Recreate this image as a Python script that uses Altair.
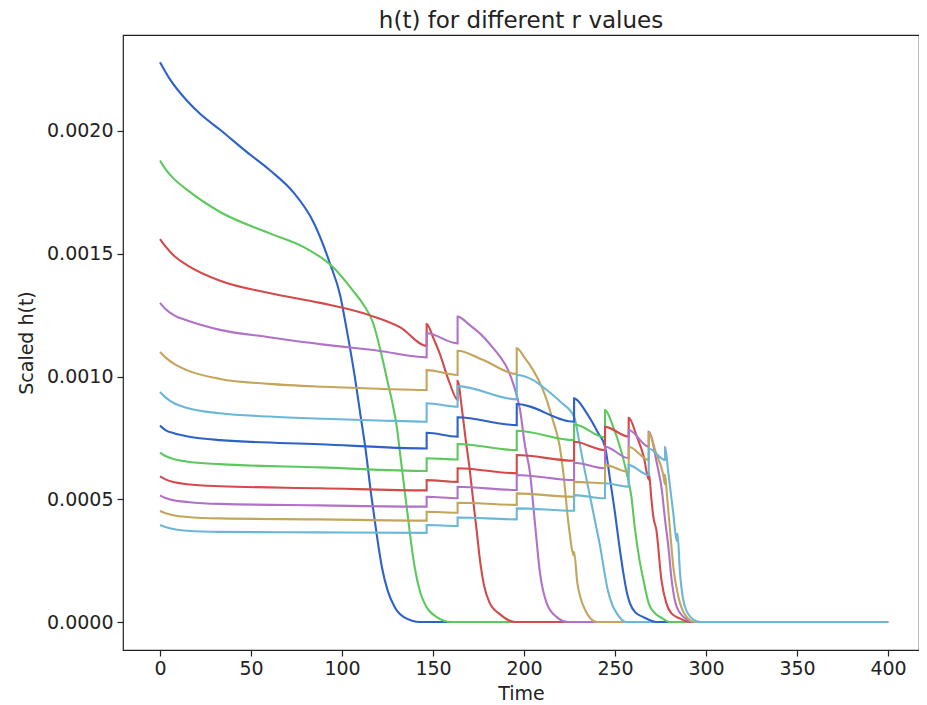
import altair as alt
import pandas as pd

SERIES = ["s01", "s02", "s03", "s04", "s05", "s06", "s07", "s08", "s09", "s10", "s11", "s12"]
COLORS = ["#2d62c8", "#5cc95c", "#d44a4a", "#b072c8", "#c4a55c", "#6cb6d8",
          "#2d62c8", "#5cc95c", "#d44a4a", "#b072c8", "#c4a55c", "#6cb6d8"]

X_TICKS = [0, 50, 100, 150, 200, 250, 300, 350, 400]
Y_TICKS = [0.0, 0.0005, 0.0010, 0.0015, 0.0020]

# values; h values are in units of 1e-3
T1 = [0, 5.5, 14.6, 22, 33, 47.6, 60.4, 73.3, 84.2, 93.4, 99, 102.6, 107, 110, 113, 116, 119, 122, 125, 129, 134, 143, 400]
V1 = [2.28, 2.21, 2.125, 2.07, 2.005, 1.915, 1.84, 1.75, 1.63, 1.46, 1.33, 1.19, 1.00, 0.85, 0.70, 0.52, 0.36, 0.22, 0.13, 0.06, 0.02, 0.0, 0.0]

T2 = [0, 3, 7, 14.6, 33, 60, 79, 95, 106, 112, 117, 121, 125, 128, 130, 132, 134, 136, 138, 140, 143, 146.5, 152, 160, 400]
V2 = [1.88, 1.845, 1.81, 1.762, 1.67, 1.584, 1.527, 1.446, 1.35, 1.29, 1.22, 1.11, 0.98, 0.88, 0.80, 0.68, 0.56, 0.44, 0.32, 0.22, 0.12, 0.06, 0.02, 0.0, 0.0]

T3 = [0, 3, 8, 14.6, 33, 60, 88, 115, 132, 146.5, 146.5, 150, 153.5, 159, 163.5, 163.5, 166, 168, 170, 172, 174, 176, 178, 181, 187, 195, 400]
V3 = [1.56, 1.53, 1.49, 1.455, 1.39, 1.34, 1.30, 1.25, 1.20, 1.125, 1.214, 1.16, 1.097, 0.976, 0.905, 0.982, 0.86, 0.74, 0.63, 0.50, 0.37, 0.24, 0.15, 0.08, 0.03, 0.0, 0.0]

T4 = [0, 3, 8, 15, 33, 60, 90, 120, 146.5, 146.5, 163.5, 163.5, 170, 177.6, 182, 186.8, 191, 194, 197.8, 200.5, 203.3, 206, 208.8, 212.5, 218, 224, 400]
V4 = [1.30, 1.275, 1.248, 1.228, 1.19, 1.16, 1.13, 1.105, 1.078, 1.176, 1.135, 1.244, 1.21, 1.162, 1.125, 1.081, 1.03, 0.972, 0.864, 0.72, 0.606, 0.402, 0.198, 0.076, 0.02, 0.0, 0.0]

T5 = [0, 3, 8, 15, 33, 60, 90, 120, 146.5, 146.5, 163.5, 163.5, 177.6, 196, 196, 200, 205, 209, 212.5, 215.5, 218, 219.5, 221.6, 224.4, 227.5, 227.5, 229.3, 231, 233.5, 240, 400]
V5 = [1.10, 1.078, 1.05, 1.025, 0.99, 0.97, 0.958, 0.95, 0.945, 1.026, 1.006, 1.105, 1.067, 1.01, 1.115, 1.08, 1.026, 0.97, 0.904, 0.83, 0.769, 0.72, 0.606, 0.402, 0.27, 0.285, 0.158, 0.10, 0.05, 0.0, 0.0]

T6 = [0, 3, 8, 15, 33, 60, 90, 120, 146.5, 146.5, 163.5, 163.5, 196, 196, 205, 212.5, 220, 227.5, 230, 232.6, 236.3, 240, 242, 244, 246, 248.5, 251, 256, 400]
V6 = [0.937, 0.915, 0.89, 0.872, 0.85, 0.837, 0.828, 0.821, 0.816, 0.891, 0.877, 0.961, 0.907, 1.006, 0.985, 0.945, 0.897, 0.836, 0.75, 0.646, 0.51, 0.375, 0.30, 0.21, 0.13, 0.07, 0.035, 0.0, 0.0]

T7 = [0, 3, 8, 14.6, 33, 88, 146.5, 146.5, 163.5, 163.5, 196, 196, 227.5, 227.5, 234.5, 240.8, 244.5, 247.3, 250, 252, 254.6, 256.5, 258.2, 261, 265.6, 273, 400]
V7 = [0.80, 0.782, 0.768, 0.757, 0.741, 0.724, 0.707, 0.771, 0.755, 0.834, 0.802, 0.888, 0.816, 0.911, 0.85, 0.769, 0.714, 0.578, 0.443, 0.33, 0.198, 0.12, 0.076, 0.04, 0.02, 0.0, 0.0]

T8 = [0, 3, 8, 14.6, 33, 88, 146.5, 146.5, 163.5, 163.5, 196, 196, 227.5, 227.5, 244.5, 244.5, 249, 252.7, 256, 259, 261, 263.5, 265.6, 268.5, 272, 276, 280, 400]
V8 = [0.69, 0.676, 0.663, 0.654, 0.643, 0.63, 0.615, 0.667, 0.662, 0.725, 0.70, 0.779, 0.741, 0.805, 0.752, 0.863, 0.795, 0.714, 0.62, 0.51, 0.375, 0.25, 0.171, 0.076, 0.035, 0.015, 0.0, 0.0]

T9 = [0, 3, 8, 15, 33, 88, 146.5, 146.5, 163.5, 163.5, 196, 196, 227.5, 227.5, 244.5, 244.5, 257.5, 257.5, 262, 265.8, 268.5, 268.5, 270, 271, 272.7, 275.5, 278.2, 281, 285.5, 291, 400]
V9 = [0.593, 0.581, 0.569, 0.561, 0.553, 0.545, 0.536, 0.578, 0.571, 0.626, 0.606, 0.68, 0.657, 0.734, 0.70, 0.795, 0.755, 0.832, 0.755, 0.673, 0.58, 0.61, 0.50, 0.43, 0.375, 0.171, 0.076, 0.035, 0.015, 0.0, 0.0]

T10 = [0, 3, 8, 15, 33, 88, 146.5, 146.5, 163.5, 163.5, 196, 196, 227.5, 227.5, 244.5, 244.5, 257.5, 257.5, 268.5, 268.5, 273, 275.7, 277.5, 279.3, 281.1, 283.9, 289.4, 293, 400]
V10 = [0.516, 0.505, 0.495, 0.489, 0.481, 0.475, 0.47, 0.51, 0.504, 0.551, 0.538, 0.599, 0.578, 0.649, 0.626, 0.714, 0.667, 0.782, 0.714, 0.775, 0.646, 0.538, 0.415, 0.307, 0.171, 0.062, 0.01, 0.0, 0.0]

T11 = [0, 3, 8, 15, 33, 88, 146.5, 146.5, 163.5, 163.5, 196, 196, 227.5, 227.5, 244.5, 244.5, 257.5, 257.5, 268.5, 268.5, 272.6, 276.3, 277.5, 277.5, 278.5, 280.2, 282, 284.8, 289.4, 294, 400]
V11 = [0.452, 0.443, 0.434, 0.428, 0.422, 0.418, 0.413, 0.449, 0.445, 0.486, 0.477, 0.524, 0.51, 0.571, 0.565, 0.639, 0.612, 0.714, 0.66, 0.771, 0.687, 0.606, 0.56, 0.60, 0.52, 0.375, 0.225, 0.103, 0.02, 0.0, 0.0]

T12 = [0, 3, 8, 15, 33, 88, 146.5, 146.5, 163.5, 163.5, 196, 196, 227.5, 227.5, 244.5, 244.5, 257.5, 257.5, 268.5, 268.5, 277.5, 277.5, 279.3, 282, 283.9, 284.3, 285.7, 288.5, 293, 297, 400]
V12 = [0.395, 0.387, 0.378, 0.372, 0.367, 0.365, 0.363, 0.395, 0.391, 0.426, 0.418, 0.463, 0.453, 0.517, 0.504, 0.565, 0.551, 0.639, 0.599, 0.707, 0.66, 0.713, 0.606, 0.443, 0.33, 0.36, 0.2, 0.06, 0.01, 0.0, 0.0]

ALL_T = [T1, T2, T3, T4, T5, T6, T7, T8, T9, T10, T11, T12]
ALL_V = [V1, V2, V3, V4, V5, V6, V7, V8, V9, V10, V11, V12]

rows = []
for name, ts, vs in zip(SERIES, ALL_T, ALL_V):
    for k, (t, v) in enumerate(zip(ts, vs)):
        rows.append({"series": name, "t": t, "h": v * 1e-3, "k": k})
df = pd.DataFrame(rows)

FONT = "DejaVu Sans"

chart = alt.Chart(df).mark_line(strokeWidth=2.1, clip=True, interpolate="monotone").encode(
    x=alt.X("t:Q",
            scale=alt.Scale(domain=[-20.33, 417.0], nice=False, zero=False),
            axis=alt.Axis(values=X_TICKS, title="Time", format="d",
                          labelPadding=3, titlePadding=6)),
    y=alt.Y("h:Q",
            scale=alt.Scale(domain=[-0.000114, 0.002391], nice=False, zero=False),
            axis=alt.Axis(values=Y_TICKS, title="Scaled h(t)", format=".4f",
                          labelPadding=4, titlePadding=10)),
    color=alt.Color("series:N", scale=alt.Scale(domain=SERIES, range=COLORS), legend=None),
    order=alt.Order("k:Q"),
).properties(
    width=796,
    height=615,
    title=alt.TitleParams("h(t) for different r values", fontSize=23,
                          fontWeight="normal", offset=2, font=FONT, color="#222"),
    autosize=alt.AutoSizeParams(type="none"),
    padding={"left": 115, "top": 27, "right": 0, "bottom": 55},
).configure_view(
    stroke="#222", strokeWidth=1.2
).configure_axis(
    grid=False, domain=False, tickColor="#222", tickSize=6, tickWidth=1.2,
    labelFontSize=19, titleFontSize=19, labelColor="#222", titleColor="#222",
    labelFont=FONT, titleFont=FONT, titleFontWeight="normal"
)

chart.save("out.html", embed_options={"renderer": "svg", "actions": False})
